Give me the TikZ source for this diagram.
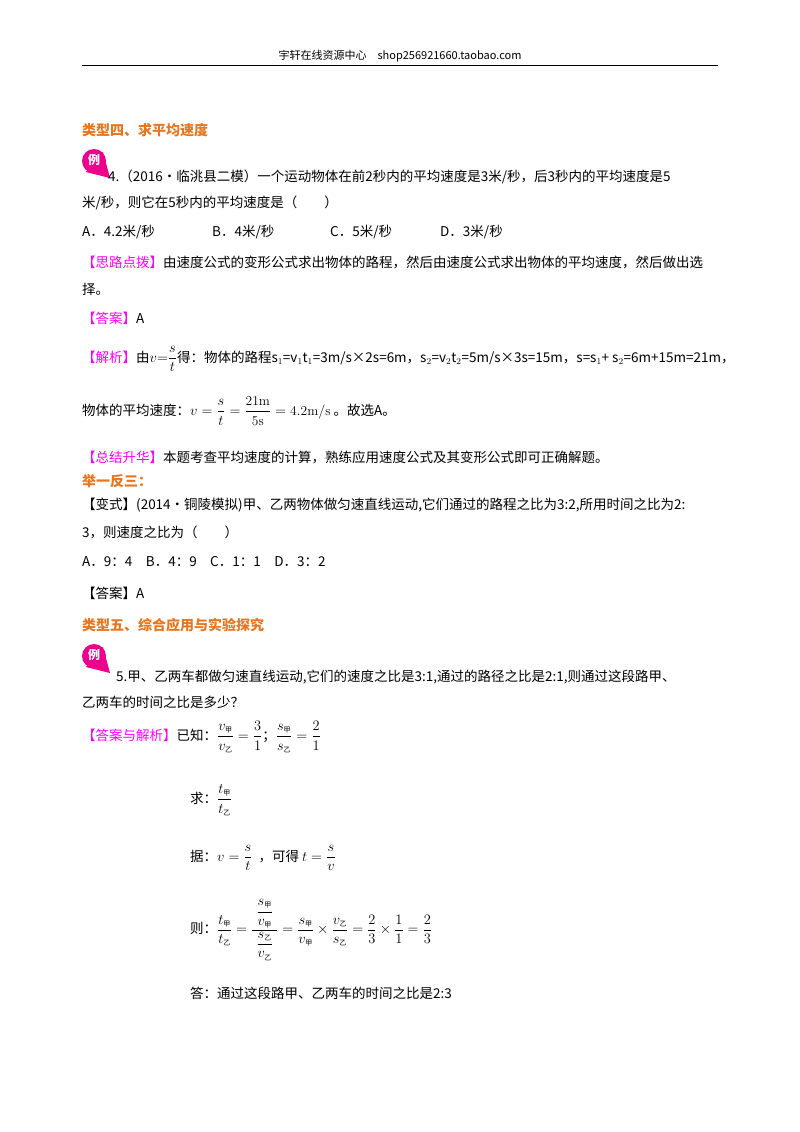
\documentclass[tikz,border=0pt]{standalone}
\usepackage{amsmath}
\usepackage{fontspec}
\newfontfamily\cjk{Noto Sans CJK SC}
\usetikzlibrary{positioning}
\definecolor{headorange}{RGB}{232,118,30}
\definecolor{tagpink}{RGB}{255,0,255}
\definecolor{badge}{RGB}{236,0,140}
\newcommand{\jia}{\text{\cjk\scriptsize 甲}}
\newcommand{\yi}{\text{\cjk\scriptsize 乙}}
\newcommand{\tg}[1]{\textcolor{tagpink}{【#1】}}
\begin{document}
\begin{tikzpicture}[x=1pt,y=-1pt,
  txt/.style = {anchor=west, inner sep=0pt, font=\cjk\fontsize{13.5}{16}\selectfont},
  head/.style = {txt, text=headorange, font=\cjk\bfseries\fontsize{14}{16}\selectfont},
  badgemark/.style = {fill=badge, draw=none}
]
  \useasboundingbox[fill=white] (0,0) rectangle (800,1132);

  % page header
  \node[txt, anchor=center, font=\cjk\fontsize{11}{13}\selectfont] (header) at (400,56) {宇轩在线资源中心\quad shop256921660.taobao.com};
  \draw[thick] (82,65) -- (718,65);

  % type four
  \node[head] (type4) at (82,130) {类型四、求平均速度};
  \fill[badgemark] (94,161) circle (12) (103,152) -- (110,178) -- (86,172) -- cycle;
  \node[font=\cjk\bfseries\fontsize{12}{13}\selectfont, text=white] (badge4) at (94,160) {例};
  \node[txt] (q4a) at (108,177) {4.（2016•临洮县二模）一个运动物体在前2秒内的平均速度是3米/秒，后3秒内的平均速度是5};
  \node[txt] (q4b) at (82,203) {米/秒，则它在5秒内的平均速度是（\qquad）};
  \node[txt] (optA) at (82,232) {A．4.2米/秒};
  \node[txt] (optB) at (212,232) {B．4米/秒};
  \node[txt] (optC) at (330,232) {C．5米/秒};
  \node[txt] (optD) at (440,232) {D．3米/秒};
  \node[txt] (hint) at (82,262) {\tg{思路点拨}由速度公式的变形公式求出物体的路程，然后由速度公式求出物体的平均速度，然后做出选};
  \node[txt] (hint2) at (82,289) {择。};
  \node[txt] (ans4) at (82,318) {\tg{答案}A};
  \node[txt] (sol4) at (82,359) {\tg{解析}由$v{=}\dfrac{s}{t}$得：物体的路程s$_1$=v$_1$t$_1$=3m/s×2s=6m，s$_2$=v$_2$t$_2$=5m/s×3s=15m，s=s$_1$+ s$_2$=6m+15m=21m，};
  \node[txt] (sol4b) at (82,411) {物体的平均速度：$v=\dfrac{s}{t}=\dfrac{\mathrm{21m}}{\mathrm{5s}}=\mathrm{4.2m/s}$ 。故选A。};
  \node[txt] (sum4) at (82,457) {\tg{总结升华}本题考查平均速度的计算，熟练应用速度公式及其变形公式即可正确解题。};
  \node[head] (drill) at (82,481) {举一反三：};
  \node[txt] (var1) at (82,505) {【变式】(2014•铜陵模拟)甲、乙两物体做匀速直线运动,它们通过的路程之比为3:2,所用时间之比为2:};
  \node[txt] (var2) at (82,532) {3，则速度之比为（\qquad）};
  \node[txt] (varopt) at (82,562) {A．9：4\quad B．4：9\quad C．1：1\quad D．3：2};
  \node[txt] (varans) at (82,593) {【答案】A};

  % type five
  \node[head] (type5) at (82,625) {类型五、综合应用与实验探究};
  \fill[badgemark] (94,656) circle (12) (103,647) -- (110,673) -- (86,667) -- cycle;
  \node[font=\cjk\bfseries\fontsize{12}{13}\selectfont, text=white] (badge5) at (94,655) {例};
  \node[txt] (q5a) at (116,677) {5.甲、乙两车都做匀速直线运动,它们的速度之比是3:1,通过的路径之比是2:1,则通过这段路甲、};
  \node[txt] (q5b) at (82,702) {乙两车的时间之比是多少？};
  \node[txt] (known) at (82,737) {\tg{答案与解析}已知：$\dfrac{v_{\jia}}{v_{\yi}}=\dfrac{3}{1}$；$\dfrac{s_{\jia}}{s_{\yi}}=\dfrac{2}{1}$};
  \node[txt] (seek) at (190,800) {求：$\dfrac{t_{\jia}}{t_{\yi}}$};
  \node[txt] (basis) at (190,858) {据：$v=\dfrac{s}{t}$\ \ ，可得\ $t=\dfrac{s}{v}$};
  \node[txt] (then) at (190,930) {则：$\dfrac{t_{\jia}}{t_{\yi}}=\dfrac{\;\dfrac{s_{\jia}}{v_{\jia}}\;}{\;\dfrac{s_{\yi}}{v_{\yi}}\;}=\dfrac{s_{\jia}}{v_{\jia}}\times\dfrac{v_{\yi}}{s_{\yi}}=\dfrac{2}{3}\times\dfrac{1}{1}=\dfrac{2}{3}$};
  \node[txt] (reply) at (190,993) {答：通过这段路甲、乙两车的时间之比是2:3};
\end{tikzpicture}
\end{document}
